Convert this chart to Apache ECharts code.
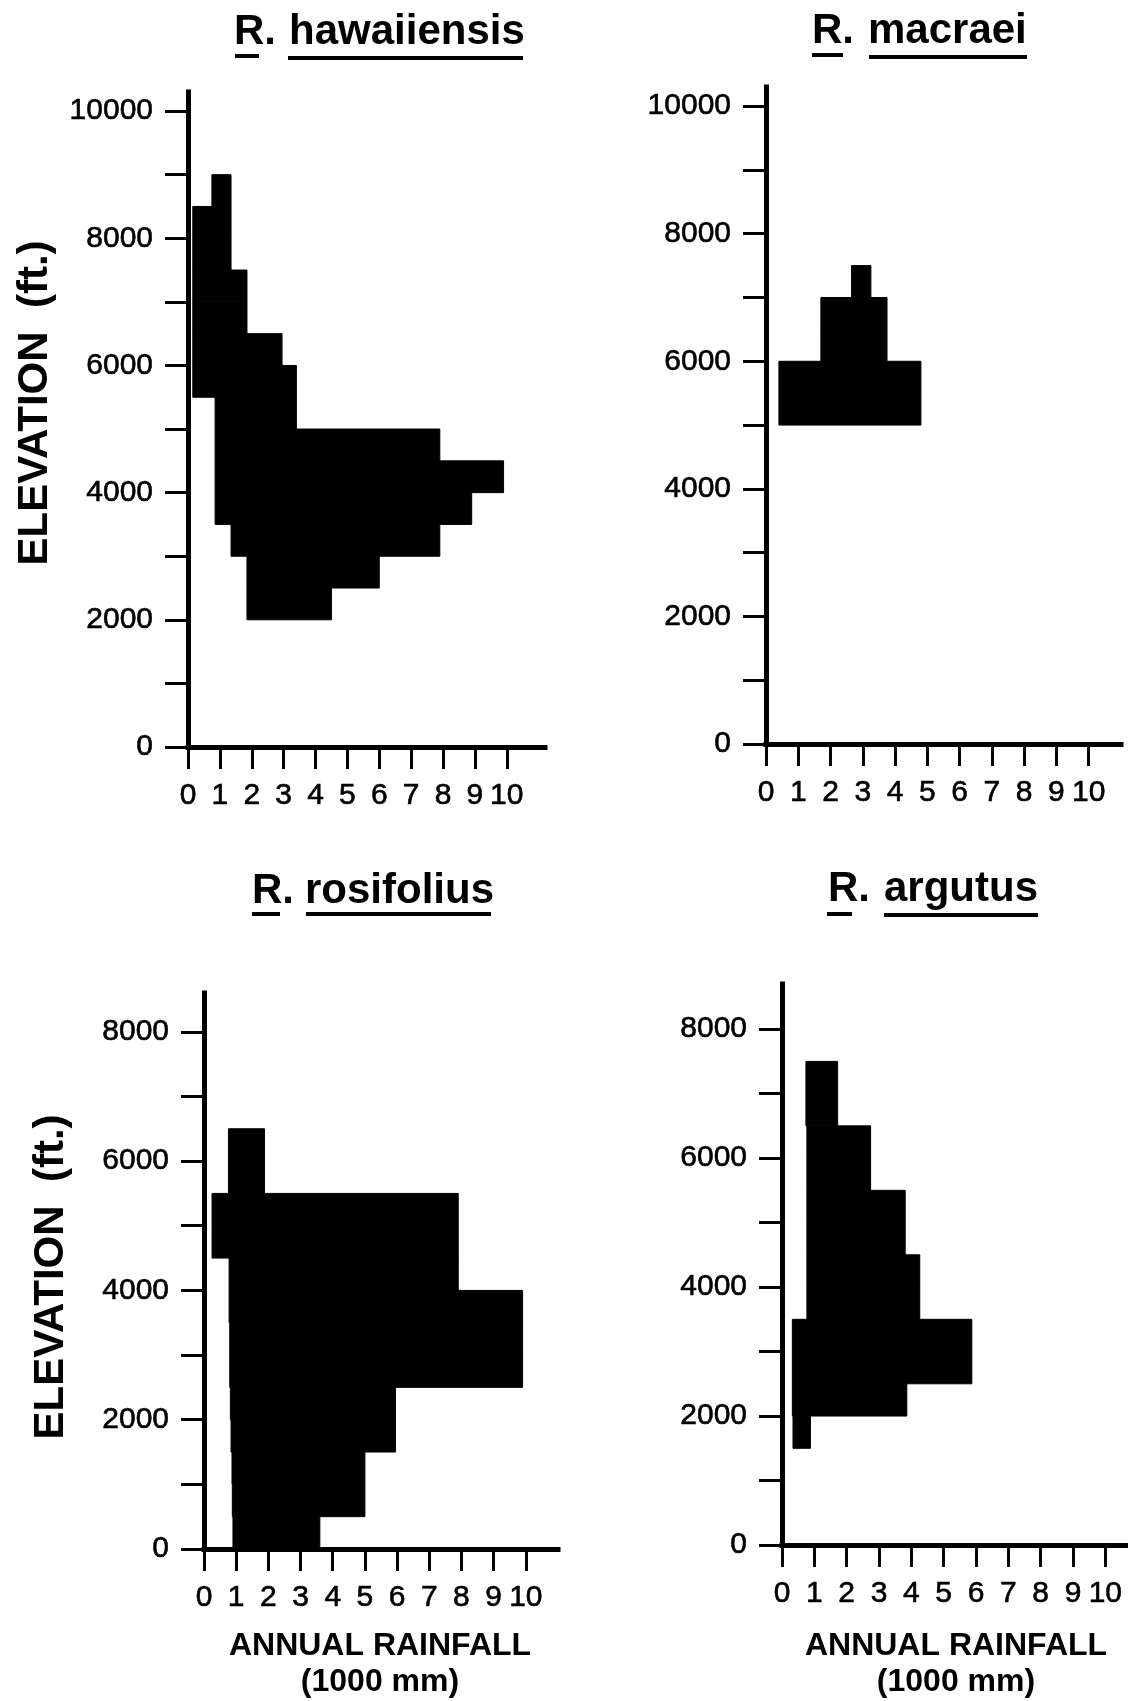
<!DOCTYPE html>
<html><head><meta charset="utf-8">
<script src="https://cdn.jsdelivr.net/npm/echarts@6/dist/echarts.min.js"></script>
<style>html,body{margin:0;padding:0;background:#fff}#c{width:1128px;height:1701px}</style>
</head><body><div id="c"></div>
<script>
// ---------------- DATA ----------------
// Each band: elevation low/high (ft) and annual rainfall min/max (1000 mm)
const speciesNames = ['hawaiiensis', 'macraei', 'rosifolius', 'argutus'];

const hawaiiensisElevLow  = [8500, 8000, 7500, 7000, 6500, 6000, 5500, 5000, 4500, 4000, 3500, 3000, 2500, 2000];
const hawaiiensisElevHigh = [9000, 8500, 8000, 7500, 7000, 6500, 6000, 5500, 5000, 4500, 4000, 3500, 3000, 2500];
const hawaiiensisRainMin  = [0.75, 0.15, 0.15, 0.15, 0.15, 0.15, 0.15, 0.85, 0.85, 0.85, 0.85, 1.35, 1.85, 1.85];
const hawaiiensisRainMax  = [1.35, 1.35, 1.35, 1.85, 1.85, 2.95, 3.4, 3.4, 7.9, 9.9, 8.9, 7.9, 6.0, 4.5];

const macraeiElevLow  = [7000, 6500, 6000, 5500, 5000];
const macraeiElevHigh = [7500, 7000, 6500, 6000, 5500];
const macraeiRainMin  = [2.65, 1.7, 1.7, 0.4, 0.4];
const macraeiRainMax  = [3.25, 3.75, 3.75, 4.8, 4.8];

const rosifoliusElevLow  = [6000, 5500, 5000, 4500, 4000, 3500, 3000, 2500, 2000, 1500, 1000, 500, 0];
const rosifoliusElevHigh = [6500, 6000, 5500, 5000, 4500, 4000, 3500, 3000, 2500, 2000, 1500, 1000, 500];
const rosifoliusRainMin  = [0.76, 0.76, 0.25, 0.25, 0.78, 0.78, 0.8, 0.8, 0.82, 0.84, 0.87, 0.88, 0.9];
const rosifoliusRainMax  = [1.88, 1.88, 7.9, 7.9, 7.9, 9.9, 9.9, 9.9, 5.95, 5.95, 5.0, 5.0, 3.6];

const argutusElevLow  = [7000, 6500, 6000, 5500, 5000, 4500, 4000, 3500, 3000, 2500, 2000, 1500];
const argutusElevHigh = [7500, 7000, 6500, 6000, 5500, 5000, 4500, 4000, 3500, 3000, 2500, 2000];
const argutusRainMin  = [0.74, 0.74, 0.77, 0.77, 0.77, 0.77, 0.77, 0.77, 0.32, 0.32, 0.32, 0.34];
const argutusRainMax  = [1.72, 1.72, 2.74, 2.74, 3.81, 3.81, 4.26, 4.26, 5.87, 5.87, 3.86, 0.88];

// Axis ticks / labels
const xTickValues = [0, 1, 2, 3, 4, 5, 6, 7, 8, 9, 10];
const yTicksTall  = [0, 1000, 2000, 3000, 4000, 5000, 6000, 7000, 8000, 9000, 10000];
const yLabelsTall = [0, 2000, 4000, 6000, 8000, 10000];
const yTicksShort  = [0, 1000, 2000, 3000, 4000, 5000, 6000, 7000, 8000];
const yLabelsShort = [0, 2000, 4000, 6000, 8000];
const yAxisName = 'ELEVATION  (ft.)';
const xAxisName1 = 'ANNUAL RAINFALL';
const xAxisName2 = '(1000 mm)';

// ---------------- BUILD ----------------
function rows(lo, hi, mn, mx) {
  return lo.map((v, i) => [mn[i], mx[i], lo[i], hi[i]]);
}
const panelData = [
  rows(hawaiiensisElevLow, hawaiiensisElevHigh, hawaiiensisRainMin, hawaiiensisRainMax),
  rows(macraeiElevLow, macraeiElevHigh, macraeiRainMin, macraeiRainMax),
  rows(rosifoliusElevLow, rosifoliusElevHigh, rosifoliusRainMin, rosifoliusRainMax),
  rows(argutusElevLow, argutusElevHigh, argutusRainMin, argutusRainMax)
];

const FONT = '"Liberation Sans", Arial, Helvetica, sans-serif';
const INK = '#000';

const grids = [
  { left: 188, top: 92,  width: 357, height: 655 },
  { left: 766, top: 87,  width: 355, height: 657 },
  { left: 204, top: 993, width: 354, height: 556 },
  { left: 782, top: 984, width: 346, height: 561 }
];
const xMax = [11.2, 11.0, 11.0, 10.7];
const yMax = [10300, 10300, 8600, 8700];
const yTickSets = [yTicksTall, yTicksTall, yTicksShort, yTicksShort];
const yLabelSets = [yLabelsTall, yLabelsTall, yLabelsShort, yLabelsShort];
const plain = v => String(v);

const xAxes = grids.map((g, i) => ({
  gridIndex: i, type: 'value', min: 0, max: xMax[i],
  axisLine: { show: true, onZero: false, lineStyle: { color: INK, width: 5, cap: 'square' } },
  axisTick: { show: true, customValues: xTickValues, length: 22, lineStyle: { color: INK, width: 3 } },
  axisLabel: { show: true, customValues: xTickValues, formatter: plain, margin: 34, fontSize: 30, color: INK, fontFamily: FONT,
               textBorderColor: INK, textBorderWidth: 0.6 },
  splitLine: { show: false }
}));
const yAxes = grids.map((g, i) => ({
  gridIndex: i, type: 'value', min: 0, max: yMax[i],
  axisLine: { show: true, onZero: false, lineStyle: { color: INK, width: 5, cap: 'square' } },
  axisTick: { show: true, customValues: yTickSets[i], length: 23, lineStyle: { color: INK, width: 3 } },
  axisLabel: { show: true, customValues: yLabelSets[i], formatter: plain, margin: 35, fontSize: 30, color: INK, fontFamily: FONT,
               textBorderColor: INK, textBorderWidth: 0.6 },
  splitLine: { show: false }
}));

function renderBand(params, api) {
  const p0 = api.coord([api.value(0), api.value(3)]);
  const p1 = api.coord([api.value(1), api.value(2)]);
  return {
    type: 'rect',
    shape: { x: p0[0], y: p0[1], width: p1[0] - p0[0], height: p1[1] - p0[1] },
    style: { fill: INK, stroke: INK, lineWidth: 1 }
  };
}
const series = panelData.map((d, i) => ({
  type: 'custom', name: speciesNames[i], xAxisIndex: i, yAxisIndex: i,
  renderItem: renderBand, data: d, encode: { x: [0, 1], y: [2, 3] }, silent: true
}));

// Titles (decorative text + underlines, layout only)
const titleLayout = [
  { rx: 234, wx: 289, y: 32,  ru: [235, 259, 54], wu: [288, 523, 56] },
  { rx: 812, wx: 868, y: 31,  ru: [812, 843, 53], wu: [869, 1027, 55] },
  { rx: 252, wx: 305, y: 891, ru: [252, 280, 912], wu: [306, 491, 912] },
  { rx: 828, wx: 884, y: 889, ru: [827, 852, 912], wu: [884, 1038, 913] }
];
const graphics = [];
titleLayout.forEach((t, i) => {
  graphics.push({ type: 'text', x: t.rx, y: t.y, style: { text: 'R.', font: 'bold 42px ' + FONT, fill: INK, align: 'left', verticalAlign: 'middle' } });
  graphics.push({ type: 'text', x: t.wx, y: t.y, style: { text: speciesNames[i], font: 'bold 42px ' + FONT, fill: INK, align: 'left', verticalAlign: 'middle' } });
  graphics.push({ type: 'rect', shape: { x: t.ru[0], y: t.ru[2], width: t.ru[1] - t.ru[0], height: 4 }, style: { fill: INK } });
  graphics.push({ type: 'rect', shape: { x: t.wu[0], y: t.wu[2], width: t.wu[1] - t.wu[0], height: 4 }, style: { fill: INK } });
});
[[35, 403], [51, 1277]].forEach(p => {
  graphics.push({ type: 'text', x: p[0], y: p[1], rotation: Math.PI / 2,
    style: { text: yAxisName, font: 'bold 42px ' + FONT, fill: INK, align: 'center', verticalAlign: 'middle' } });
});
[380, 956].forEach(cx => {
  graphics.push({ type: 'text', x: cx, y: 1646, style: { text: xAxisName1, font: 'bold 32px ' + FONT, fill: INK, align: 'center', verticalAlign: 'middle' } });
  graphics.push({ type: 'text', x: cx, y: 1682, style: { text: xAxisName2, font: 'bold 32px ' + FONT, fill: INK, align: 'center', verticalAlign: 'middle' } });
});

const chart = echarts.init(document.getElementById('c'), null, { renderer: 'canvas' });
chart.setOption({
  backgroundColor: '#fff',
  animation: false,
  grid: grids,
  xAxis: xAxes,
  yAxis: yAxes,
  series: series,
  graphic: graphics
});
</script>
</body></html>
